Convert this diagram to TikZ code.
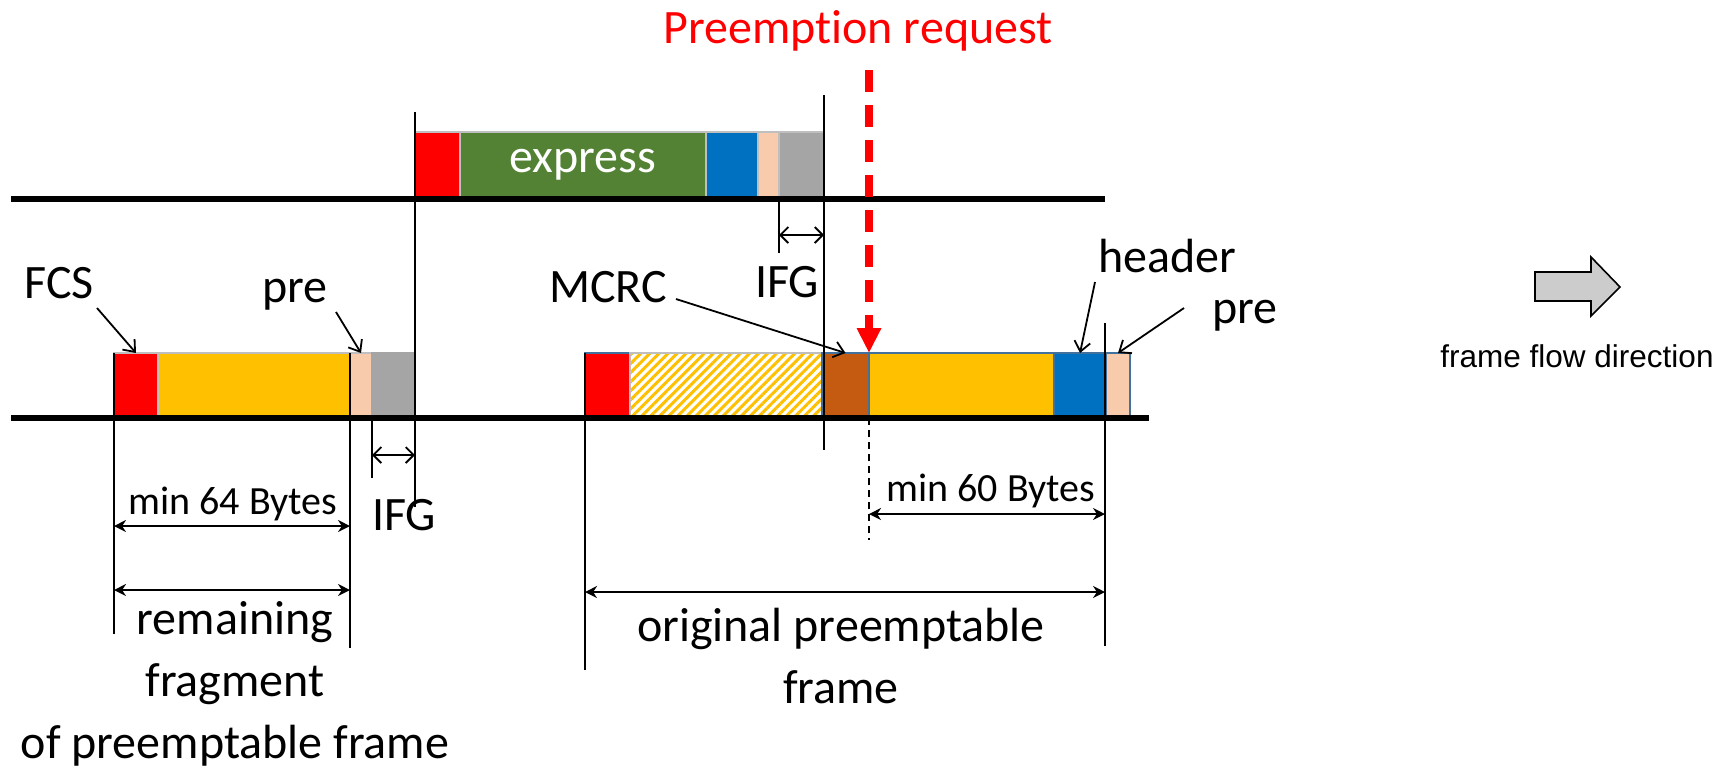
\documentclass[tikz,border=0pt]{standalone}
\usepackage{fontspec}
\setmainfont[RawFeature={-liga;-clig;-calt;-dlig}]{Carlito}
\newfontfamily\flowfont{Liberation Sans}
\usepackage{tikz}
\definecolor{cred}{RGB}{255, 0, 0}
\definecolor{cgreen}{RGB}{84, 130, 53}
\definecolor{cblue}{RGB}{0, 112, 192}
\definecolor{cpeach}{RGB}{248, 203, 173}
\definecolor{cgray}{RGB}{165, 165, 165}
\definecolor{cyellow}{RGB}{255, 192, 0}
\definecolor{cbrown}{RGB}{197, 90, 17}
\definecolor{cedge}{RGB}{65, 113, 156}
\definecolor{cedgegray}{RGB}{191, 191, 191}
\definecolor{cflow}{RGB}{204, 204, 204}
\usetikzlibrary{arrows.meta}
\usetikzlibrary{patterns.meta}

\begin{document}
\begin{tikzpicture}[scale=0.5, every node/.style={inner sep=0pt, outer sep=0pt},
  seg/.style={rectangle, line width=0.6pt},
  lbl/.style={font=\fontsize{24}{31}\selectfont, anchor=base},
  small/.style={font=\fontsize{20}{24}\selectfont, anchor=base},
  wire/.style={line width=3pt, color=black},
  tick/.style={line width=0.9pt, color=black},
  dim/.style={line width=0.9pt, {Stealth[length=6pt,width=6pt]}-{Stealth[length=6pt,width=6pt]}},
  gap/.style={line width=0.9pt, {Straight Barb[length=4pt,width=8pt]}-{Straight Barb[length=4pt,width=8pt]}},
  ptr/.style={line width=0.9pt, -{Straight Barb[length=5pt,width=8pt]}},
  req/.style={line width=4pt, color=cred, dash pattern=on 11pt off 6.5pt, -{Triangle[length=12.5pt,width=11.5pt]}}]
\useasboundingbox (0pt, 0pt) rectangle (1732pt, -768pt);
\node (ered) [seg, fill=cred, draw=cedgegray, minimum width=22.5pt, minimum height=33pt] at (437.5pt, -165pt) {};
\node (egreen) [seg, fill=cgreen, draw=cedgegray, minimum width=123pt, minimum height=33pt, text=white, font=\fontsize{24}{31}\selectfont] at (583pt, -165pt) {express};
\node (eblue) [seg, fill=cblue, draw=cedgegray, minimum width=26pt, minimum height=33pt] at (732pt, -165pt) {};
\node (epeach) [seg, fill=cpeach, draw=cedgegray, minimum width=10.5pt, minimum height=33pt] at (768.5pt, -165pt) {};
\node (egray) [seg, fill=cgray, draw=cedgegray, minimum width=22.5pt, minimum height=33pt] at (801.5pt, -165pt) {};
\node (fred) [seg, fill=cred, draw=cedgegray, minimum width=22pt, minimum height=32.5pt] at (136pt, -385.5pt) {};
\node (fyellow) [seg, fill=cyellow, draw=cedgegray, minimum width=96pt, minimum height=32.5pt] at (254pt, -385.5pt) {};
\node (fpeach) [seg, fill=cpeach, draw=cedgegray, minimum width=11pt, minimum height=32.5pt] at (361pt, -385.5pt) {};
\node (fgray) [seg, fill=cgray, draw=cgray, minimum width=21.5pt, minimum height=32.5pt] at (393.5pt, -385.5pt) {};
\node (ored) [seg, fill=cred, draw=cedge, minimum width=22.5pt, minimum height=32.5pt] at (607.5pt, -385.5pt) {};
\node (ohatch) [seg, draw=cedgegray, pattern={Lines[angle=45, distance=3.2pt, line width=1.5pt]}, pattern color=cyellow, minimum width=96pt, minimum height=32.5pt] at (726pt, -385.5pt) {};
\node (obrown) [seg, fill=cbrown, draw=cedge, minimum width=23.5pt, minimum height=32.5pt] at (845.5pt, -385.5pt) {};
\node (oyellow) [seg, fill=cyellow, draw=cedge, minimum width=92.5pt, minimum height=32.5pt] at (961.5pt, -385.5pt) {};
\node (oblue) [seg, fill=cblue, draw=cedge, minimum width=26pt, minimum height=32.5pt] at (1080pt, -385.5pt) {};
\node (opeach) [seg, fill=cpeach, draw=cedge, minimum width=12pt, minimum height=32.5pt] at (1118pt, -385.5pt) {};
\coordinate (topL) at (11pt, -199pt);
\coordinate (topR) at (1105pt, -199pt);
\coordinate (botL) at (11pt, -418pt);
\coordinate (botR) at (1149pt, -418pt);
\draw [wire] (topL) -- (topR);
\draw [wire] (botL) -- (botR);
\coordinate (v1a) at (415pt, -112pt);
\coordinate (v1b) at (415pt, -507pt);
\coordinate (v2a) at (824pt, -95pt);
\coordinate (v2b) at (824pt, -450pt);
\coordinate (v3b) at (114pt, -634pt);
\coordinate (v4b) at (350pt, -648pt);
\coordinate (v5b) at (585pt, -670pt);
\coordinate (v6a) at (1105pt, -323pt);
\coordinate (v6b) at (1105pt, -646pt);
\coordinate (v7b) at (372pt, -478pt);
\coordinate (v8b) at (779pt, -253pt);
\coordinate (v9b) at (869pt, -540pt);
\draw [tick] (v1a) -- (v1b);
\draw [tick] (v2a) -- (v2b);
\draw [tick] (fred.north west) -- (v3b);
\draw [tick] (fyellow.north east) -- (v4b);
\draw [tick] (ored.north west) -- (v5b);
\draw [tick] (v6a) -- (v6b);
\draw [tick] (fgray.south west) -- (v7b);
\draw [tick] (egray.south west) -- (v8b);
\draw [tick, dash pattern=on 3.5pt off 2.5pt] (obrown.south east) -- (v9b);
\coordinate (ifgTL) at (779pt, -235pt);
\coordinate (ifgTR) at (824pt, -235pt);
\coordinate (ifgBL) at (372pt, -455pt);
\coordinate (ifgBR) at (415pt, -455pt);
\coordinate (m64L) at (114pt, -526pt);
\coordinate (m64R) at (350pt, -526pt);
\coordinate (remL) at (114pt, -590pt);
\coordinate (remR) at (350pt, -590pt);
\coordinate (m60L) at (869pt, -514pt);
\coordinate (m60R) at (1105pt, -514pt);
\coordinate (origL) at (585pt, -592pt);
\coordinate (origR) at (1105pt, -592pt);
\draw [gap] (ifgTL) -- (ifgTR);
\draw [gap] (ifgBL) -- (ifgBR);
\draw [dim] (m64L) -- (m64R);
\draw [dim] (remL) -- (remR);
\draw [dim] (m60L) -- (m60R);
\draw [dim] (origL) -- (origR);
\node (preq) [lbl, text=cred] at (858pt, -43pt) {Preemption request};
\node (ifgT) [lbl] at (787pt, -297pt) {IFG};
\node (fcs) [lbl] at (59pt, -298pt) {FCS};
\node (preL) [lbl] at (295pt, -302pt) {pre};
\node (mcrc) [lbl] at (608pt, -302pt) {MCRC};
\node (header) [lbl] at (1167pt, -272pt) {header};
\node (preR) [lbl] at (1245pt, -323pt) {pre};
\node (ifgB) [lbl] at (404pt, -530pt) {IFG};
\node (min64) [small] at (233pt, -514pt) {min 64 Bytes};
\node (min60) [small] at (991pt, -501pt) {min 60 Bytes};
\node (remain) [lbl, align=center] at (235pt, -758pt) {remaining\\fragment\\of preemptable frame};
\node (orig) [lbl, align=center] at (841pt, -703pt) {original preemptable\\frame};
\coordinate (fcsT) at (97pt, -308pt);
\coordinate (preLT) at (336pt, -312pt);
\coordinate (mcrcT) at (676pt, -299pt);
\coordinate (headerT) at (1095pt, -282pt);
\coordinate (preRT) at (1184pt, -308pt);
\draw [ptr] (fcsT) -- (fred.north);
\draw [ptr] (preLT) -- (fpeach.north);
\draw [ptr] (mcrcT) -- (obrown.north);
\draw [ptr] (headerT) -- (oblue.north);
\draw [ptr] (preRT) -- (opeach.north);
\coordinate (reqT) at (869pt, -70pt);
\draw [req] (reqT) -- (obrown.north east);
\draw [line width=0.8pt, fill=cflow] (1535pt, -272pt) -- (1591pt, -272pt) -- (1591pt, -257pt) -- (1620pt, -287pt) -- (1591pt, -316pt) -- (1591pt, -301pt) -- (1535pt, -301pt) -- cycle;
\node (flow) [font=\flowfont\fontsize{15.75}{18}\selectfont, anchor=base] at (1577pt, -367pt) {frame flow direction};
\end{tikzpicture}
\end{document}
